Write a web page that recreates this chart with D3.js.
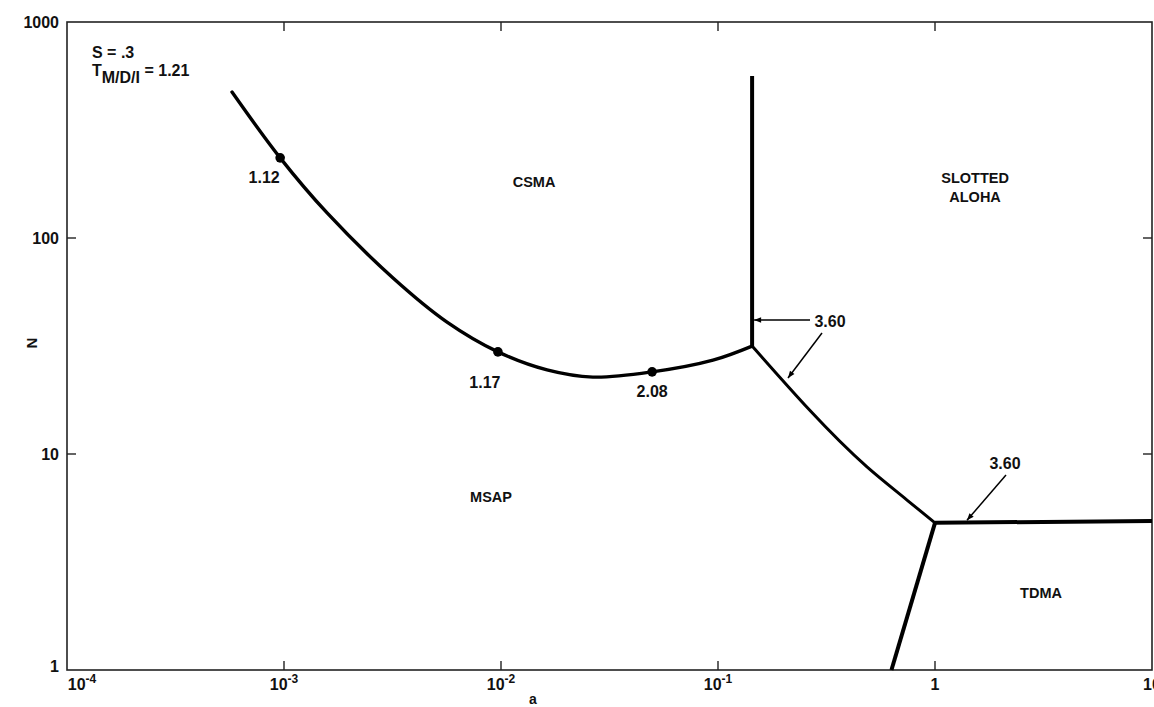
<!DOCTYPE html>
<html>
<head>
<meta charset="utf-8">
<script src="https://cdn.jsdelivr.net/npm/d3@7"></script>
<style>
  html, body { margin: 0; padding: 0; background: #fff; }
  svg text { font-family: "Liberation Sans", Arial, Helvetica, sans-serif; font-weight: bold; fill: #111; }
</style>
</head>
<body>
<svg id="chart" width="1154" height="707"></svg>
<script>
// Boundary between MSAP and CSMA regions (a, N)
const msapCsmaA = [0.000576, 0.00096, 0.00158, 0.00318, 0.00564, 0.00968, 0.0163, 0.0265, 0.0497, 0.0948, 0.1436];
const msapCsmaN = [474, 235, 130.6, 65.3, 40.8, 29.7, 24.5, 22.7, 24.0, 27.2, 31.6];

// Marked operating points on that boundary
const markA = [0.00096, 0.00968, 0.0497];
const markN = [235, 29.7, 24.0];
const markLabels = ["1.12", "1.17", "2.08"];

// CSMA / SLOTTED ALOHA boundary (vertical)
const csmaAlohaA = [0.1436, 0.1436];
const csmaAlohaN = [31.6, 562];

// MSAP / SLOTTED ALOHA boundary
const msapAlohaA = [0.1436, 0.486, 0.743, 1.0];
const msapAlohaN = [31.6, 8.71, 6.12, 4.8];

// SLOTTED ALOHA / TDMA boundary
const alohaTdmaA = [1.0, 10];
const alohaTdmaN = [4.8, 4.9];

// MSAP / TDMA boundary
const msapTdmaA = [1.0, 0.63];
const msapTdmaN = [4.8, 1];

// Region names
const regionNames = [["CSMA"], ["SLOTTED", "ALOHA"], ["MSAP"], ["TDMA"]];
const regionA = [0.0142, 1.53, 0.0090, 3.08];
const regionN = [181, 189, 6.33, 2.27];

// Axis ticks
const xTicks = [1e-4, 1e-3, 1e-2, 1e-1, 1, 10];
const xTickBase = ["10", "10", "10", "10", "1", "10"];
const xTickExp = ["-4", "-3", "-2", "-1", "", ""];
const yTicks = [1, 10, 100, 1000];
const yTickLabels = ["1", "10", "100", "1000"];

const svg = d3.select("#chart");
const plotL = 67, plotR = 1152, plotT = 22, plotB = 670;

const x = d3.scaleLog().domain([1e-4, 10]).range([plotL, plotR]);
const y = d3.scaleLog().domain([1, 1000]).range([plotB, plotT]);

// Frame
svg.append("rect")
  .attr("x", plotL).attr("y", plotT)
  .attr("width", plotR - plotL).attr("height", plotB - plotT)
  .attr("fill", "none").attr("stroke", "#222").attr("stroke-width", 1.6);

// Inward ticks on all four sides
const tickLen = 9;
const g = svg.append("g").attr("stroke", "#222").attr("stroke-width", 1.4);
xTicks.slice(1, -1).forEach(v => {
  g.append("line").attr("x1", x(v)).attr("x2", x(v)).attr("y1", plotB).attr("y2", plotB - tickLen);
  g.append("line").attr("x1", x(v)).attr("x2", x(v)).attr("y1", plotT).attr("y2", plotT + tickLen);
});
yTicks.slice(1, -1).forEach(v => {
  g.append("line").attr("x1", plotL).attr("x2", plotL + tickLen).attr("y1", y(v)).attr("y2", y(v));
  g.append("line").attr("x1", plotR).attr("x2", plotR - tickLen).attr("y1", y(v)).attr("y2", y(v));
});

// X tick labels
xTicks.forEach((v, i) => {
  const t = svg.append("text")
    .attr("x", i === 0 ? x(v) + 15 : x(v))
    .attr("y", 690)
    .attr("text-anchor", "middle")
    .attr("font-size", 16);
  t.append("tspan").text(xTickBase[i]);
  if (xTickExp[i]) {
    t.append("tspan").attr("font-size", 12).attr("dy", -7).text(xTickExp[i]);
  }
});

// Y tick labels
yTicks.forEach((v, i) => {
  svg.append("text")
    .attr("x", 59)
    .attr("y", (v === 1 ? y(v) - 4 : y(v)) + 6)
    .attr("text-anchor", "end")
    .attr("font-size", 16)
    .text(yTickLabels[i]);
});

// Axis titles
svg.append("text").attr("x", 533).attr("y", 704).attr("text-anchor", "middle")
  .attr("font-size", 14).text("a");
svg.append("text").attr("transform", "translate(37,343) rotate(-90)")
  .attr("text-anchor", "middle").attr("font-size", 15).text("N");

// Parameter annotation
svg.append("text").attr("x", 92).attr("y", 58).attr("font-size", 16).text("S = .3");
const tm = svg.append("text").attr("x", 92).attr("y", 76).attr("font-size", 16);
tm.append("tspan").text("T");
tm.append("tspan").attr("dy", 7).text("M/D/I");
tm.append("tspan").attr("dy", -7).text(" = 1.21");

// Boundary curves
const pts = (as, ns) => as.map((a, i) => [x(a), y(ns[i])]);
const smooth = d3.line().curve(d3.curveCatmullRom.alpha(0.5));
const gentle = d3.line().curve(d3.curveMonotoneX);
const straight = d3.line();

svg.append("path").attr("d", smooth(pts(msapCsmaA, msapCsmaN)))
  .attr("fill", "none").attr("stroke", "#000").attr("stroke-width", 3.4)
  .attr("stroke-linecap", "round").attr("stroke-linejoin", "round");
svg.append("path").attr("d", straight(pts(csmaAlohaA, csmaAlohaN)))
  .attr("fill", "none").attr("stroke", "#000").attr("stroke-width", 4);
svg.append("path").attr("d", gentle(pts(msapAlohaA, msapAlohaN)))
  .attr("fill", "none").attr("stroke", "#000").attr("stroke-width", 3)
  .attr("stroke-linejoin", "round");
svg.append("path").attr("d", straight(pts(alohaTdmaA, alohaTdmaN)))
  .attr("fill", "none").attr("stroke", "#000").attr("stroke-width", 4);
svg.append("path").attr("d", straight(pts(msapTdmaA, msapTdmaN)))
  .attr("fill", "none").attr("stroke", "#000").attr("stroke-width", 4);

// Marked points and their labels
markA.forEach((a, i) => {
  svg.append("circle").attr("cx", x(a)).attr("cy", y(markN[i])).attr("r", 4.8).attr("fill", "#000");
});
const labelOffsets = [[-16, 25], [-13, 36], [0, 25]];
markA.forEach((a, i) => {
  svg.append("text")
    .attr("x", x(a) + labelOffsets[i][0])
    .attr("y", y(markN[i]) + labelOffsets[i][1])
    .attr("text-anchor", "middle").attr("font-size", 16)
    .text(markLabels[i]);
});

// Region labels (positioned by their first line's centre)
regionNames.forEach((lines, i) => {
  const t = svg.append("text")
    .attr("x", x(regionA[i])).attr("y", y(regionN[i]) + 5)
    .attr("text-anchor", "middle").attr("font-size", 14.5);
  lines.forEach((l, j) => t.append("tspan").attr("x", x(regionA[i])).attr("dy", j === 0 ? 0 : 19).text(l));
});

// Callout arrows with their values
const defs = svg.append("defs");
defs.append("marker").attr("id", "head").attr("viewBox", "0 0 10 10")
  .attr("refX", 10).attr("refY", 5).attr("markerWidth", 9).attr("markerHeight", 7)
  .attr("markerUnits", "userSpaceOnUse").attr("orient", "auto")
  .append("path").attr("d", "M0,1 L10,5 L0,9 Z").attr("fill", "#000");

const calloutVal = ["3.60", "3.60"];
svg.append("text").attr("x", 830).attr("y", 327).attr("text-anchor", "middle").attr("font-size", 16).text(calloutVal[0]);
svg.append("text").attr("x", 1005).attr("y", 469).attr("text-anchor", "middle").attr("font-size", 16).text(calloutVal[1]);

const arrow = (x1, y1, x2, y2) => svg.append("line")
  .attr("x1", x1).attr("y1", y1).attr("x2", x2).attr("y2", y2)
  .attr("stroke", "#000").attr("stroke-width", 1.5).attr("marker-end", "url(#head)");
// point at the vertical CSMA/ALOHA line
arrow(810, 320, x(0.1436) + 2, 320);
// point at the MSAP/ALOHA line
arrow(822, 333, 788, 378);
// point at the ALOHA/TDMA line
arrow(1006, 475, 967, y(4.83) - 2);
</script>
</body>
</html>
